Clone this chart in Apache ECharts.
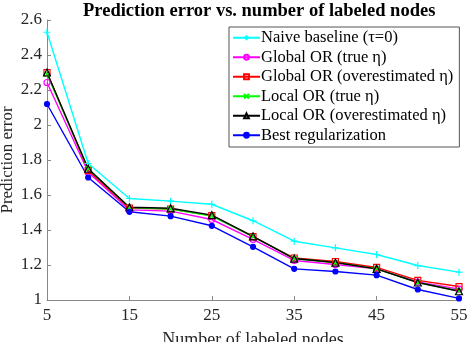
<!DOCTYPE html>
<html>
<head>
<meta charset="utf-8">
<script src="https://cdn.jsdelivr.net/npm/echarts@6/dist/echarts.min.js"></script>
<style>
  html, body { margin: 0; padding: 0; background: #fff; }
  #chart { width: 470px; height: 342px; }
</style>
</head>
<body>
<div id="chart"></div>
<script>
// number of labeled nodes
const nodes = [5, 10, 15, 20, 25, 30, 35, 40, 45, 50, 55];
const xTicks = [5, 15, 25, 35, 45, 55];

// prediction error per method
const naive = [2.53, 1.78, 1.58, 1.565, 1.547, 1.453, 1.336, 1.298, 1.26, 1.197, 1.159];
const globalTrue = [2.243, 1.73, 1.515, 1.508, 1.46, 1.346, 1.226, 1.203, 1.178, 1.103, 1.062];
const globalOver = [2.30, 1.74, 1.525, 1.52, 1.482, 1.362, 1.24, 1.22, 1.186, 1.112, 1.077];
const localTrue = [2.29, 1.75, 1.528, 1.52, 1.48, 1.362, 1.236, 1.214, 1.178, 1.10, 1.052];
const localOver = [2.30, 1.75, 1.53, 1.524, 1.485, 1.364, 1.237, 1.214, 1.178, 1.10, 1.05];
const best = [2.12, 1.70, 1.504, 1.479, 1.424, 1.304, 1.178, 1.163, 1.142, 1.06, 1.009];

const font = 'Liberation Serif, Times New Roman, serif';
const plusPath = 'path://M0,5L10,5M5,0L5,10';
const crossPath = 'path://M0,0L10,10M10,0L0,10';

function makeSeries(name, data, color, symbol, size, fill) {
  return {
    name: name,
    type: 'line',
    data: nodes.map((n, i) => [n, data[i]]),
    symbol: symbol,
    symbolSize: size,
    showSymbol: true,
    lineStyle: { color: color, width: 1.4 },
    itemStyle: { color: fill, borderColor: color, borderWidth: 1.2 },
    emphasis: { disabled: true },
    animation: false
  };
}

const chart = echarts.init(document.getElementById('chart'));
chart.setOption({
  title: {
    text: 'Prediction error vs. number of labeled nodes',
    left: 78,
    top: -3,
    textStyle: { fontFamily: font, fontWeight: 'bold', fontSize: 18.5, color: '#000' }
  },
  legend: {
    orient: 'vertical',
    left: 229,
    top: 27,
    width: 232,
    padding: [2, 6, 3, 3],
    itemWidth: 27,
    itemHeight: 6,
    itemGap: 2,
    borderColor: '#555',
    borderWidth: 1,
    backgroundColor: '#fff',
    textStyle: { fontFamily: font, fontSize: 16.5, lineHeight: 17.5, color: '#000', padding: [0, 0, 0, -4] },
    data: ['Naive baseline (\u03c4=0)', 'Global OR (true \u03b7)', 'Global OR (overestimated \u03b7)',
      'Local OR (true \u03b7)', 'Local OR (overestimated \u03b7)', 'Best regularization']
  },
  grid: { left: 47, right: 11, top: 20, bottom: 42, outerBoundsMode: 'none' },
  xAxis: {
    type: 'value',
    min: 5,
    max: 55,
    interval: 10,
    name: 'Number of labeled nodes',
    nameLocation: 'middle',
    nameGap: 31,
    nameMoveOverlap: false,
    nameTextStyle: { fontFamily: font, fontSize: 18, color: '#262626', verticalAlign: 'top' },
    axisLine: { lineStyle: { color: '#888', width: 1 } },
    axisTick: { inside: true, length: 4, lineStyle: { color: '#888' } },
    axisLabel: { fontFamily: font, fontSize: 17, color: '#262626', margin: 7,
      customValues: xTicks },
    splitLine: { show: false }
  },
  yAxis: {
    type: 'value',
    min: 1,
    max: 2.6,
    interval: 0.2,
    name: 'Prediction error',
    nameLocation: 'middle',
    nameGap: 31,
    nameMoveOverlap: false,
    nameTextStyle: { fontFamily: font, fontSize: 17, color: '#262626', verticalAlign: 'bottom' },
    axisLine: { show: true, lineStyle: { color: '#888', width: 1 } },
    axisTick: { show: true, inside: true, length: 4, lineStyle: { color: '#888' } },
    axisLabel: { fontFamily: font, fontSize: 17, color: '#262626', margin: 5,
      formatter: v => String(Math.round(v * 10) / 10) },
    splitLine: { show: false }
  },
  series: [
    makeSeries('Naive baseline (\u03c4=0)', naive, '#00ffff', plusPath, 7, '#00ffff'),
    makeSeries('Global OR (true \u03b7)', globalTrue, '#ff00ff', 'circle', 6, 'none'),
    makeSeries('Global OR (overestimated \u03b7)', globalOver, '#ff0000', 'rect', 6, 'none'),
    makeSeries('Local OR (true \u03b7)', localTrue, '#00ff00', crossPath, 5, '#00ff00'),
    makeSeries('Local OR (overestimated \u03b7)', localOver, '#000000', 'triangle', 7, 'none'),
    makeSeries('Best regularization', best, '#0000ff', 'circle', 5, '#0000ff')
  ]
});
</script>
</body>
</html>
